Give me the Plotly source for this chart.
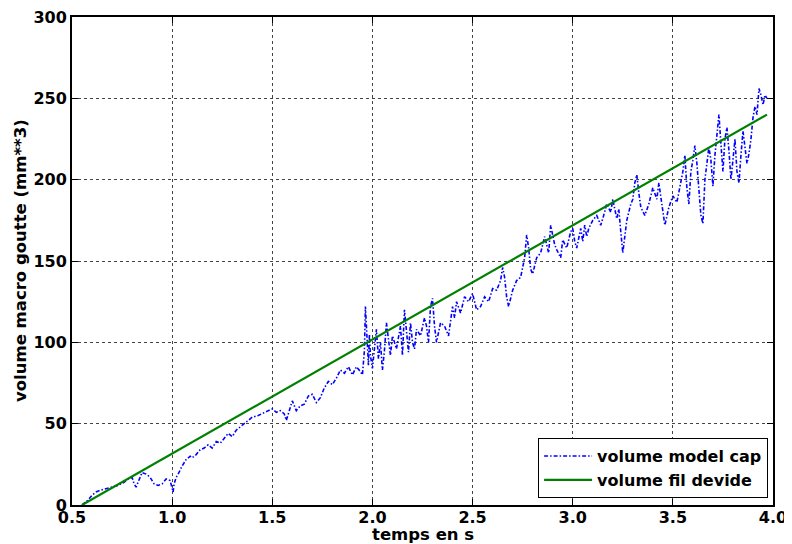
import plotly.graph_objects as go

# measured droplet volume (model cap)
t_model = [0.55,0.56,0.58,0.60,0.62,0.64,0.67,0.70,0.73,0.76,0.78,0.80,0.81,0.82,0.84,0.85,0.87,0.89,0.91,0.93,
           0.95,0.97,0.99,1.00,1.005,1.01,1.02,1.03,1.04,1.05,1.06,1.07,1.09,1.10,1.12,1.14,1.16,1.18,1.20,1.22,
           1.24,1.26,1.28,1.30,1.32,1.34,1.37,1.40,1.43,1.46,1.48,1.50,1.52,1.54,1.56,1.57,1.59,1.60,1.62,1.64,
           1.66,1.68,1.70,1.72,1.74,1.76,1.78,1.80,1.82,1.84,1.86,1.88,1.90,1.92,1.94,1.95,1.96,1.965,1.97,1.975,
           1.98,1.985,1.99,2.00,2.01,2.02,2.03,2.04,2.05,2.06,2.07,2.08,2.09,2.10,2.12,2.14,2.15,2.16,2.17,2.18,
           2.19,2.20,2.21,2.22,2.24,2.26,2.27,2.28,2.29,2.30,2.31,2.32,2.34,2.36,2.38,2.40,2.41,2.42,2.44,2.46,
           2.48,2.50,2.52,2.54,2.56,2.58,2.60,2.62,2.64,2.65,2.66,2.67,2.68,2.70,2.72,2.74,2.76,2.77,2.78,2.79,
           2.80,2.82,2.84,2.86,2.87,2.88,2.89,2.90,2.91,2.92,2.94,2.95,2.97,2.99,3.00,3.01,3.02,3.04,3.05,3.06,
           3.07,3.08,3.10,3.12,3.14,3.15,3.17,3.19,3.20,3.22,3.23,3.24,3.25,3.26,3.27,3.29,3.30,3.31,3.32,3.33,
           3.34,3.36,3.38,3.40,3.42,3.43,3.44,3.45,3.46,3.48,3.50,3.52,3.54,3.55,3.56,3.57,3.58,3.59,3.60,3.61,
           3.62,3.63,3.64,3.65,3.66,3.67,3.68,3.69,3.70,3.71,3.72,3.73,3.74,3.75,3.76,3.77,3.78,3.79,3.80,3.81,
           3.82,3.83,3.84,3.85,3.86,3.87,3.88,3.89,3.90,3.91,3.92,3.93,3.94,3.95,3.96,3.97]
v_model = [0,1,3,6,8,9,10,11,12,14,16,17,13,11,17,20,19,17,13,12,
           13,16,15,10,8,13,17,19,22,24,26,28,30,29,31,34,35,37,35,39,
           38,41,44,42,46,48,51,54,55,57,58,59,57,58,56,52,60,64,58,61,
           62,67,68,63,66,72,76,74,78,83,81,85,80,85,82,80,95,122,110,100,
           86,105,92,84,97,108,90,100,83,95,112,100,92,104,96,110,92,120,105,94,
           112,100,96,108,104,115,110,100,122,127,110,100,112,110,104,122,115,125,118,128,
           125,130,120,122,128,125,133,132,138,146,140,128,122,132,138,140,152,166,158,145,
           142,152,155,165,160,155,172,165,160,157,152,163,158,168,170,162,158,170,162,172,
           165,170,175,178,172,176,185,180,188,176,182,168,155,165,175,185,188,198,203,192,
           183,178,185,195,188,198,190,180,172,183,190,186,200,205,215,195,185,205,212,221,
           210,192,178,173,200,210,220,212,196,215,228,240,222,205,225,232,218,200,212,225,
           205,198,215,230,220,210,216,225,238,245,240,256,252,246,252,250]

# fitted volume line
t_fit = [0.55, 3.97]
v_fit = [0, 240]

x_ticks = [0.5, 1.0, 1.5, 2.0, 2.5, 3.0, 3.5, 4.0]
y_ticks = [0, 50, 100, 150, 200, 250, 300]

x_title = "temps en s"
y_title = "volume macro goutte (mm**3)"

font_family = "DejaVu Sans"
title_font = dict(family=font_family, size=16.5, color="black", weight="bold")

fig = go.Figure()
fig.add_trace(go.Scatter(
    x=t_model, y=v_model, mode="lines", name="volume model cap",
    line=dict(color="#0000ff", width=1.6, dash="4px,2px,1.5px,2px"),
))
fig.add_trace(go.Scatter(
    x=t_fit, y=v_fit, mode="lines", name="volume fil devide",
    line=dict(color="#008000", width=2.2),
))

axis_common = dict(
    showline=True, linecolor="black", linewidth=2, mirror="allticks",
    ticks="inside", ticklen=6, tickwidth=1, tickcolor="black",
    showgrid=True, gridcolor="#444444", griddash="dot", gridwidth=1,
    zeroline=False, automargin=False, ticklabeloverflow="allow",
    tickfont=dict(family=font_family, size=16, color="black", weight="bold"),
)

fig.update_xaxes(
    range=[0.5, 4.0], tickvals=x_ticks, ticktext=[f"{v:.1f}" for v in x_ticks],
    ticklabelstandoff=-3,
    **axis_common,
)
fig.update_yaxes(
    range=[0, 300], tickvals=y_ticks, ticktext=[str(v) for v in y_ticks],
    **axis_common,
)

fig.add_annotation(
    text=x_title, xref="paper", yref="paper", x=0.5, y=0, yshift=-29,
    xanchor="center", yanchor="middle", showarrow=False, font=title_font,
)
fig.add_annotation(
    text=y_title, xref="paper", yref="paper", x=0, y=0.5, xshift=-52,
    xanchor="center", yanchor="middle", textangle=-90, showarrow=False, font=title_font,
)

fig.update_layout(
    width=784, height=536,
    margin=dict(l=64, r=19, t=9, b=39),
    paper_bgcolor="white", plot_bgcolor="white",
    font=dict(family=font_family, color="black"),
    legend=dict(
        x=0.993, y=0.014, xanchor="right", yanchor="bottom",
        bgcolor="white", bordercolor="black", borderwidth=1,
        font=dict(family=font_family, size=16, color="black", weight="bold"),
        itemwidth=48, tracegroupgap=0,
    ),
)

fig.write_html("out.html")
